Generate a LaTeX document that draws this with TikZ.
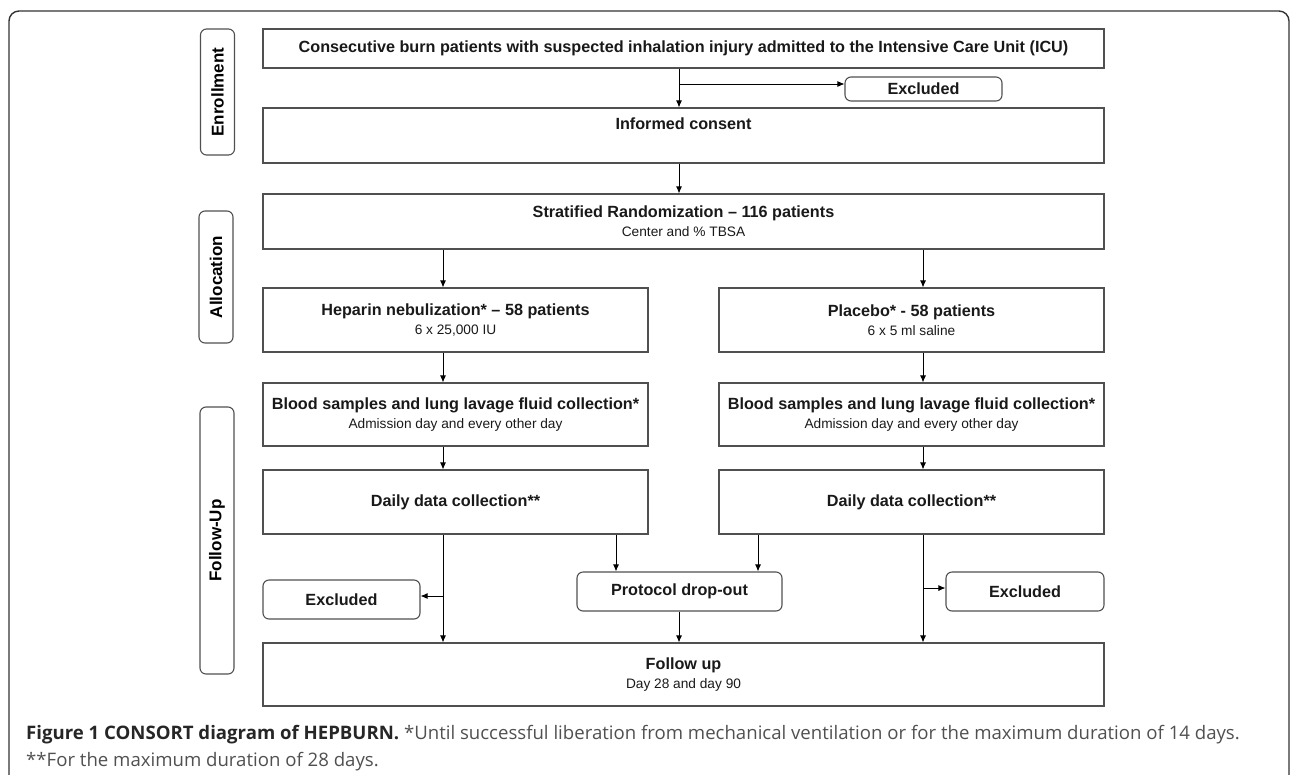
\documentclass[tikz,border=0pt]{standalone}
\usepackage{fontspec}
\setmainfont{Liberation Sans}
\newfontfamily\capfont{Open Sans}
\usetikzlibrary{arrows.meta,positioning}
\definecolor{boxline}{HTML}{505050}
\definecolor{capgray}{HTML}{505050}
\newcommand{\boxtitle}{\fontsize{16.2}{19}\selectfont\bfseries}
\newcommand{\boxsub}{\fontsize{13.7}{19}\selectfont\mdseries}

\begin{document}
\begin{tikzpicture}[x=1pt,y=-1pt,
  stepbox/.style={draw=boxline, line width=1.1pt, inner sep=0pt, align=center, text=black!90, font=\boxtitle},
  outbox/.style={stepbox, rounded corners=6pt},
  phase/.style={draw=boxline, line width=1.1pt, rounded corners=6pt, inner sep=0pt, rotate=90,
    minimum height=34pt, font=\fontsize{17}{19}\selectfont\bfseries},
  arr/.style={-{Latex[length=7pt,width=6pt]}, line width=0.9pt},
  ]
  \useasboundingbox (0,0) rectangle (1290,774);
  % outer frame
  \draw[line width=1.4pt, black!80, rounded corners=10pt] (9,790) -- (9,11) -- (1289,11) -- (1289,790);

  % phases
  \node[phase, minimum width=126pt] (enr) at (217.5,92) {Enrollment};
  \node[phase, minimum width=132pt] (alloc) at (216,277) {Allocation};
  \node[phase, minimum width=267pt] (fup) at (217,540.5) {Follow-Up};

  % boxes
  \node[stepbox, minimum width=841pt, minimum height=39pt] (patients) at (683.5,48.5)
    {Consecutive burn patients with suspected inhalation injury admitted to the Intensive Care Unit (ICU)};
  \node[outbox, minimum width=157pt, minimum height=24pt] (exclTop) at (923.5,89) {Excluded};
  \node[stepbox, minimum width=841pt, minimum height=55pt] (consent) at (683.5,135.5)
    {Informed consent\\{\boxsub\strut}};
  \node[stepbox, minimum width=841pt, minimum height=55pt] (rand) at (683.5,221.5)
    {Stratified Randomization \textendash{} 116 patients\\{\boxsub Center and \% TBSA}};
  \node[stepbox, minimum width=385pt, minimum height=64pt] (hep) at (455.5,320)
    {Heparin nebulization* \textendash{} 58 patients\\{\boxsub 6 x 25,000 IU}};
  \node[stepbox, minimum width=385pt, minimum height=64pt] (plc) at (911.5,320)
    {Placebo* - 58 patients\\{\boxsub 6 x 5 ml saline}};
  \node[stepbox, minimum width=385pt, minimum height=63pt] (bloodL) at (455.5,414.5)
    {Blood samples and lung lavage fluid collection*\\{\boxsub Admission day and every other day}};
  \node[stepbox, minimum width=385pt, minimum height=63pt] (bloodR) at (911.5,414.5)
    {Blood samples and lung lavage fluid collection*\\{\boxsub Admission day and every other day}};
  \node[stepbox, minimum width=385pt, minimum height=64pt] (dailyL) at (455.5,502) {Daily data collection**};
  \node[stepbox, minimum width=385pt, minimum height=64pt] (dailyR) at (911.5,502) {Daily data collection**};
  \node[outbox, minimum width=157pt, minimum height=39pt] (exclL) at (341.5,599.5) {Excluded};
  \node[outbox, minimum width=205pt, minimum height=39pt] (drop) at (679.5,591.5) {Protocol drop-out};
  \node[outbox, minimum width=158pt, minimum height=39pt] (exclR) at (1025,591.5) {Excluded};
  \node[stepbox, minimum width=841pt, minimum height=63pt] (follow) at (683.5,674.5)
    {Follow up\\{\boxsub Day 28 and day 90}};

  % arrow columns
  \coordinate (colL) at (443,0);
  \coordinate (colM) at (679,0);
  \coordinate (colR) at (923,0);
  \coordinate (dropL) at (616,0);
  \coordinate (dropR) at (758,0);
  \coordinate (splitTop) at (679,84);
  \coordinate (splitL) at (443,596);
  \coordinate (splitR) at (923,588);

  \draw[arr] (patients.south -| colM) -- (consent.north -| colM);
  \draw[arr] (splitTop) -- (splitTop -| exclTop.west);
  \draw[arr] (consent.south -| colM) -- (rand.north -| colM);
  \draw[arr] (rand.south -| colL) -- (hep.north -| colL);
  \draw[arr] (rand.south -| colR) -- (plc.north -| colR);
  \draw[arr] (hep.south -| colL) -- (bloodL.north -| colL);
  \draw[arr] (plc.south -| colR) -- (bloodR.north -| colR);
  \draw[arr] (bloodL.south -| colL) -- (dailyL.north -| colL);
  \draw[arr] (bloodR.south -| colR) -- (dailyR.north -| colR);
  \draw[arr] (dailyL.south -| colL) -- (follow.north -| colL);
  \draw[arr] (splitL) -- (splitL -| exclL.east);
  \draw[arr] (dailyL.south -| dropL) -- (drop.north -| dropL);
  \draw[arr] (dailyR.south -| dropR) -- (drop.north -| dropR);
  \draw[arr] (drop.south -| colM) -- (follow.north -| colM);
  \draw[arr] (dailyR.south -| colR) -- (follow.north -| colR);
  \draw[arr] (splitR) -- (splitR -| exclR.west);

  % caption
  \node[anchor=north west, align=left, inner sep=0pt, text=capgray,
    font=\capfont\fontsize{18.6}{27}\selectfont] (caption) at (26,725)
    {{\bfseries\color{black!85}Figure 1 CONSORT diagram of HEPBURN.} *Until successful liberation from mechanical ventilation or for the maximum duration of 14 days.\\
     **For the maximum duration of 28 days.};
\end{tikzpicture}
\end{document}
